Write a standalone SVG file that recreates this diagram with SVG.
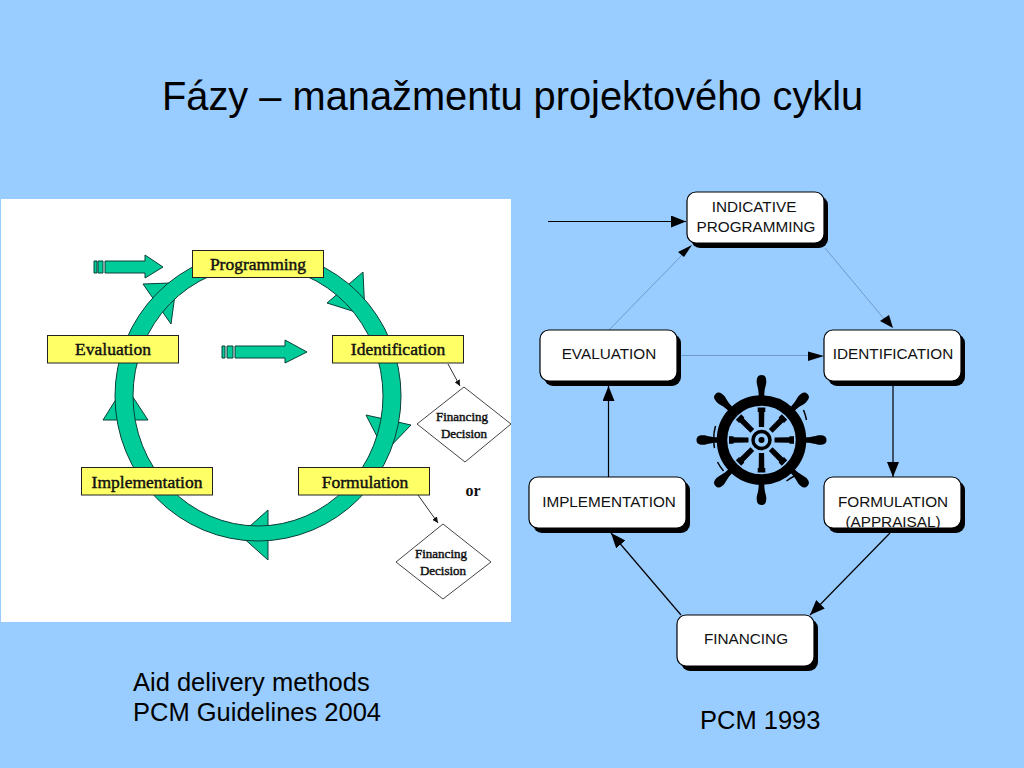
<svg xmlns="http://www.w3.org/2000/svg" width="1024" height="768" viewBox="0 0 1024 768">
<style>
.t{font-family:"Liberation Sans",Arial,sans-serif;fill:#000}
.label{font-size:25.500px}
.b{font-size:15.300px;text-anchor:middle;fill:#111}
.y{fill:#ffff66;stroke:#222;stroke-width:1}
.s{font-family:"Liberation Serif","Times New Roman",serif;text-anchor:middle;fill:#111}
.ys{font-size:17.500px;stroke:#111;stroke-width:.45}
.ds{font-size:13px;stroke:#111;stroke-width:.45}
.g{fill:#00cc99;stroke:#0a3f38;stroke-width:1}
.d{fill:#fff;stroke:#444;stroke-width:1}
.box{fill:#fff;stroke:#000;stroke-width:1.2}
.sh{fill:#000}
.c{fill:none;stroke:#000;stroke-width:1.2}
.f{fill:none;stroke:#6f99cc;stroke-width:1}
</style>
<defs>
<marker id="a" viewBox="0 0 15 12" refX="15" refY="6" markerWidth="15" markerHeight="12" markerUnits="userSpaceOnUse" orient="auto"><path d="M0 0L15 6L0 12Z" fill="#000"/></marker>
<marker id="sm" viewBox="0 0 6 6" refX="6" refY="3" markerWidth="6" markerHeight="6" markerUnits="userSpaceOnUse" orient="auto"><path d="M0 0L6 3L0 6Z" fill="#111"/></marker>
<g id="spoke">
<path d="M0 -65C4.500 -65 4.800 -61 4.800 -58C4.800 -55 2.800 -52 2.800 -44H-2.800C-2.800 -52 -4.800 -55 -4.800 -58C-4.800 -61 -4.500 -65 0 -65Z" fill="#000"/>
<path d="M-2.600 -13H2.600L2.800 -28H3.800V-32.500H-3.800V-28H-2.800Z" fill="#000"/>
</g>
</defs>
<rect width="1024" height="768" fill="#99ccff"/>
<text class="t" x="162" y="110" font-size="39.800">Fázy – manažmentu projektového cyklu</text>
<rect x="1" y="199" width="510" height="423" fill="#fff"/>
<g id="cycle-ring">
<path class="g" d="M143 284L170 283L177 280L171 324Z"/>
<path class="g" d="M363 272L327 303L365 315Z"/>
<path class="g" d="M366 415L411 425L385 452Z"/>
<path class="g" d="M268 510L268 560L240 535Z"/>
<path class="g" d="M103 420L148 420L125 385Z"/>
<path class="g" fill-rule="evenodd" d="M115 396A143 145 0 1 1 401 396A143 145 0 1 1 115 396ZM133 396A125 130 0 1 0 383 396A125 130 0 1 0 133 396Z"/>
</g>
<g id="entry-arrow-1">
<path d="M94 261h3v12h-3zM98 261h5v12h-5z" fill="#00cc99" stroke="#0a3f38" stroke-width="1"/>
<path class="g" d="M105 261H145V255L163 267L145 278V273H105Z"/>
</g>
<g id="entry-arrow-2">
<path d="M222 346h3v12h-3zM227 346h6v12h-6z" fill="#00cc99" stroke="#0a3f38" stroke-width="1"/>
<path class="g" d="M235 346H285V340L307 352L285 363V358H235Z"/>
</g>
<g id="small-connectors">
<path d="M448 364L460 386" stroke="#333" fill="none" marker-end="url(#sm)"/>
<path d="M418 495L438 523" stroke="#333" fill="none" marker-end="url(#sm)"/>
</g>
<g id="programming"><rect class="y" x="192.500" y="250.500" width="131" height="27" stroke="#666"/><text class="s ys" x="258" y="270">Programming</text></g>
<g id="evaluation"><rect class="y" x="47.500" y="335.500" width="131" height="27.500"/><text class="s ys" x="113" y="355">Evaluation</text></g>
<g id="identification"><rect class="y" x="332.500" y="335.500" width="131" height="27.500"/><text class="s ys" x="398" y="355">Identification</text></g>
<g id="implementation"><rect class="y" x="81.500" y="467.500" width="131" height="27.500"/><text class="s ys" x="147" y="488">Implementation</text></g>
<g id="formulation"><rect class="y" x="298.500" y="467.500" width="131" height="27.500"/><text class="s ys" x="365" y="488">Formulation</text></g>
<g id="decision-1"><path class="d" d="M464 387L511 424L465 462L417 424Z"/><text class="s ds" x="462" y="421">Financing</text><text class="s ds" x="464" y="438">Decision</text></g>
<g id="decision-2"><path class="d" d="M443 524L491 562L443 599L396 562Z"/><text class="s ds" x="441" y="558">Financing</text><text class="s ds" x="443" y="575">Decision</text></g>
<text class="s" x="473" y="496" font-size="16" font-weight="bold">or</text>
<g id="connectors">
<path class="c" d="M548 221.500H686" marker-end="url(#a)"/>
<path class="f" d="M609 330L686 251"/>
<path d="M692 245L678 252L684 257Z" fill="#000"/>
<path class="f" d="M825 248L885 320"/>
<path d="M893 328L880 321L889 315Z" fill="#000"/>
<path class="f" d="M681 355.500H810"/>
<path d="M824 356L808 351.500V361Z" fill="#000"/>
<path class="c" d="M893 386V477" marker-end="url(#a)"/>
<path class="c" d="M890 533L810 615" marker-end="url(#a)"/>
<path class="c" d="M681 615L611 533" marker-end="url(#a)"/>
<path class="c" d="M608.500 477V386" marker-end="url(#a)"/>
</g>
<g id="indicative-programming"><rect class="sh" x="691" y="196" width="137" height="52" rx="9"/><rect class="box" x="687" y="192" width="137" height="51" rx="9"/><text class="t b" x="754" y="212">INDICATIVE</text><text class="t b" x="756" y="232">PROGRAMMING</text></g>
<g id="pcm-evaluation"><rect class="sh" x="544" y="334" width="137" height="52" rx="9"/><rect class="box" x="540" y="330" width="137" height="51" rx="9"/><text class="t b" x="609" y="359">EVALUATION</text></g>
<g id="pcm-identification"><rect class="sh" x="828" y="334" width="137" height="52" rx="9"/><rect class="box" x="824" y="330" width="137" height="51" rx="9"/><text class="t b" x="893" y="359">IDENTIFICATION</text></g>
<g id="pcm-implementation"><rect class="sh" x="533" y="481" width="157" height="52" rx="9"/><rect class="box" x="529" y="477" width="157" height="51" rx="9"/><text class="t b" x="609" y="507">IMPLEMENTATION</text></g>
<g id="pcm-formulation"><rect class="sh" x="828" y="481" width="137" height="52" rx="9"/><rect class="box" x="824" y="477" width="137" height="51" rx="9"/><text class="t b" x="893" y="507">FORMULATION</text><text class="t b" x="893" y="527">(APPRAISAL)</text></g>
<g id="pcm-financing"><rect class="sh" x="681" y="619" width="137" height="52" rx="9"/><rect class="box" x="677" y="615" width="137" height="51" rx="9"/><text class="t b" x="746" y="644">FINANCING</text></g>
<g id="ship-wheel" transform="translate(761.500 440)">
<circle r="39.500" fill="none" stroke="#000" stroke-width="10.500"/>
<circle r="8.500" fill="none" stroke="#000" stroke-width="3.500"/>
<circle r="3" fill="#000"/>
<use href="#spoke"/>
<use href="#spoke" transform="rotate(45)"/>
<use href="#spoke" transform="rotate(90)"/>
<use href="#spoke" transform="rotate(135)"/>
<use href="#spoke" transform="rotate(180)"/>
<use href="#spoke" transform="rotate(225)"/>
<use href="#spoke" transform="rotate(270)"/>
<use href="#spoke" transform="rotate(315)"/>
<path d="M-46 -14A48 48 0 0 0 -47 8M-44 22A49 49 0 0 0 -38 31M42 -30A50 50 0 0 1 45 -20M25 41A48 48 0 0 1 33 36M-24 -31A38 38 0 0 1 -14 -35M17 31A35 35 0 0 0 23 27" fill="none" stroke="#000" stroke-width="1.500"/>
</g>
<text class="t label" x="133" y="691">Aid delivery methods</text>
<text class="t label" x="133" y="721">PCM Guidelines 2004</text>
<text class="t label" x="700" y="729">PCM 1993</text>
</svg>
